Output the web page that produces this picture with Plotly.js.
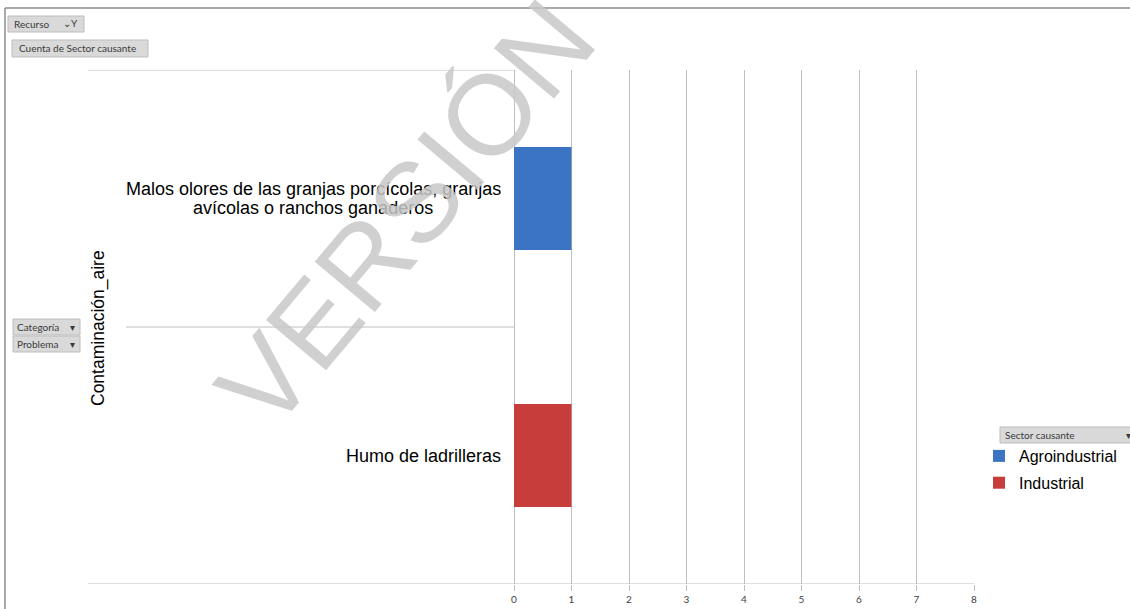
<!DOCTYPE html>
<html>
<head>
<meta charset="utf-8">
<script src="https://cdn.plot.ly/plotly-3.0.1.min.js"></script>
<style>html,body{margin:0;padding:0;background:#fff;overflow:hidden;}#chart{width:1130px;height:609px;}</style>
</head>
<body>
<div id="chart"></div>
<script>
// ---- data ----
const categories = ["Humo de ladrilleras", "Malos olores de las granjas porcícolas, granjas<br>avícolas o ranchos ganaderos"];
const outerCategory = "Contaminación_aire";
const seriesNames = ["Agroindustrial", "Industrial"];
const agroCats = ["Malos olores de las granjas porcícolas, granjas<br>avícolas o ranchos ganaderos"];
const agroValues = [1];
const induCats = ["Humo de ladrilleras"];
const induValues = [1];
const xTicks = [0, 1, 2, 3, 4, 5, 6, 7, 8];

// ---- layout helpers (pixel -> paper) ----
const L = 514, R = 974, T = 70, B = 584;
const X = px => (px - L) / (R - L);
const Y = py => (B - py) / (B - T);

const traces = [
  {type: 'bar', orientation: 'h', name: seriesNames[0], x: agroValues, y: agroCats, legendgroup: 'a',
   width: 0.4, marker: {color: '#3a74c2', line: {width: 0}}, hoverinfo: 'x+y+name'},
  {type: 'bar', orientation: 'h', name: seriesNames[1], x: induValues, y: induCats, legendgroup: 'b',
   width: 0.4, marker: {color: '#c73d3b', line: {width: 0}}, hoverinfo: 'x+y+name'}
];

const grey = '#bfbfbf';
const shapes = [
  // outer chart border
  {type: 'line', xref: 'paper', yref: 'paper', x0: X(5), x1: X(1135), y0: Y(8), y1: Y(8), line: {color: '#8c8c8c', width: 1.5}},
  {type: 'line', xref: 'paper', yref: 'paper', x0: X(5), x1: X(5), y0: Y(8), y1: Y(615), line: {color: '#8c8c8c', width: 1.5}},
  // category divider lines
  {type: 'line', xref: 'paper', yref: 'y', x0: X(88), x1: 0, y0: 1.5, y1: 1.5, line: {color: grey, width: 1}},
  {type: 'line', xref: 'paper', yref: 'y', x0: X(126), x1: 0, y0: 0.5, y1: 0.5, line: {color: grey, width: 1}},
  {type: 'line', xref: 'paper', yref: 'y', x0: X(88), x1: 1, y0: -0.5, y1: -0.5, line: {color: grey, width: 1}}
];

function button(x0, x1, y0, y1) {
  return {type: 'rect', xref: 'paper', yref: 'paper', x0: X(x0), x1: X(x1), y0: Y(y1), y1: Y(y0),
          fillcolor: '#d9d9d9', line: {color: '#bdbdbd', width: 1}, layer: 'above'};
}
shapes.push(button(8, 84, 16, 32));
shapes.push(button(12, 148, 40, 57));
shapes.push(button(13, 80, 319, 335));
shapes.push(button(13, 80, 336, 352));
shapes.push(button(1000, 1140, 427, 443));

const btnFont = {family: 'Lato, "Open Sans", sans-serif', size: 10, color: '#3a3a3a'};
function btnText(txt, px, py, anchor) {
  return {xref: 'paper', yref: 'paper', x: X(px), y: Y(py), text: txt, showarrow: false,
          xanchor: anchor || 'left', yanchor: 'middle', font: btnFont};
}

const annotations = [];
// inner category labels (through the y axis), lines centred within the label block
const labelFont = {family: 'Liberation Sans, Arial, sans-serif', size: 18, color: '#000'};
const cv = document.createElement('canvas').getContext('2d');
cv.font = '18px "Liberation Sans", Arial, sans-serif';
const labelRight = 501;
categories.forEach(c => {
  const lines = c.split('<br>');
  const n = lines.length, lh = 19.5;
  const maxW = Math.max(...lines.map(s => cv.measureText(s).width));
  const centre = labelRight - maxW / 2;
  lines.forEach((ln, i) => {
    annotations.push({xref: 'paper', yref: 'y', x: X(centre), y: c, text: ln, showarrow: false,
      xanchor: 'center', yanchor: 'middle', align: 'center',
      yshift: ((n - 1) / 2 - i) * lh, font: labelFont});
  });
});
// outer category label
annotations.push({xref: 'paper', yref: 'paper', x: X(98), y: Y(328), text: outerCategory, showarrow: false,
  textangle: -90, xanchor: 'center', yanchor: 'middle',
  font: {family: 'Liberation Sans, Arial, sans-serif', size: 17.5, color: '#000'}});
// pivot buttons
annotations.push(btnText('Recurso', 12, 24));
annotations.push(btnText('⌄Y', 80, 23, 'right'));
annotations.push(btnText('Cuenta de Sector causante', 17, 48.5));
annotations.push(btnText('Categoría', 15, 327));
annotations.push(btnText('▾', 77, 327, 'right'));
annotations.push(btnText('Problema', 15, 344));
annotations.push(btnText('▾', 77, 344, 'right'));
annotations.push(btnText('Sector causante', 1003, 435));
annotations.push(btnText('▾', 1133, 435, 'right'));
// watermark
annotations.push({xref: 'paper', yref: 'paper', x: X(405), y: Y(214), text: 'VERSIÓN', showarrow: false,
  textangle: -50, xanchor: 'center', yanchor: 'middle',
  font: {family: 'Liberation Sans, Arial, sans-serif', size: 114, color: 'rgba(200,200,200,0.85)'}});

const layout = {
  width: 1130, height: 609,
  margin: {l: L, r: 1130 - R, t: T, b: 609 - B, pad: 0, autoexpand: false},
  paper_bgcolor: '#ffffff', plot_bgcolor: '#ffffff',
  barmode: 'relative',
  showlegend: true,
  legend: {x: X(979), y: Y(439), xanchor: 'left', yanchor: 'top', traceorder: 'grouped',
           font: {family: 'Liberation Sans, Arial, sans-serif', size: 16, color: '#000'},
           bgcolor: 'rgba(0,0,0,0)', itemwidth: 30, tracegroupgap: 3},
  xaxis: {range: [0, 8], tickvals: xTicks, ticktext: xTicks.map(String), showgrid: true, gridcolor: grey, gridwidth: 1,
          zeroline: true, zerolinecolor: grey, zerolinewidth: 1,
          ticks: 'outside', ticklen: 6, tickcolor: grey, showline: false,
          tickfont: {family: 'Lato, "Open Sans", sans-serif', size: 10, color: '#404040'}, fixedrange: true},
  yaxis: {type: 'category', categoryorder: 'array', categoryarray: categories, range: [-0.5, 1.5],
          showticklabels: false, showgrid: false, zeroline: false, showline: false, ticks: '', fixedrange: true},
  shapes: shapes,
  annotations: annotations
};

Plotly.newPlot('chart', traces, layout, {displayModeBar: false, staticPlot: true});
</script>
</body>
</html>
